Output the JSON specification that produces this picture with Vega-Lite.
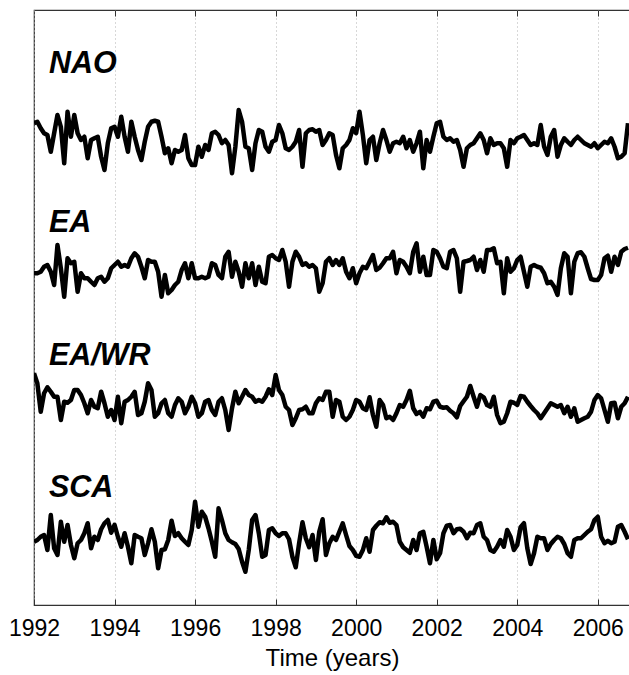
{
  "$schema": "https://vega.github.io/schema/vega-lite/v6.json",
  "width": 596,
  "height": 595,
  "autosize": {"type": "none"},
  "padding": {"left": 34, "top": 10, "right": 0, "bottom": 70},
  "background": "white",
  "config": {"view": {"stroke": "#333333", "strokeWidth": 1.2}, "font": "Liberation Sans"},
  "datasets": {
    "idx": [
      {"t":1992.000,"NAO":19.27,"EA":13.27,"EAWR":9.27,"SCA":2.53},
      {"t":1992.083,"NAO":19.33,"EA":13.27,"EAWR":8.87,"SCA":2.60},
      {"t":1992.167,"NAO":19.07,"EA":13.33,"EAWR":7.73,"SCA":2.73},
      {"t":1992.250,"NAO":18.87,"EA":13.53,"EAWR":8.47,"SCA":2.80},
      {"t":1992.333,"NAO":18.80,"EA":13.60,"EAWR":8.71,"SCA":2.20},
      {"t":1992.417,"NAO":18.13,"EA":13.33,"EAWR":8.53,"SCA":3.60},
      {"t":1992.500,"NAO":18.87,"EA":12.80,"EAWR":8.33,"SCA":2.27},
      {"t":1992.583,"NAO":19.60,"EA":14.40,"EAWR":8.33,"SCA":2.00},
      {"t":1992.667,"NAO":19.13,"EA":13.47,"EAWR":7.40,"SCA":3.33},
      {"t":1992.750,"NAO":17.67,"EA":12.33,"EAWR":8.13,"SCA":2.53},
      {"t":1992.833,"NAO":19.73,"EA":13.87,"EAWR":8.09,"SCA":3.20},
      {"t":1992.917,"NAO":18.73,"EA":13.67,"EAWR":8.20,"SCA":2.40},
      {"t":1993.000,"NAO":19.60,"EA":13.73,"EAWR":8.60,"SCA":1.87},
      {"t":1993.083,"NAO":18.87,"EA":12.53,"EAWR":8.60,"SCA":2.47},
      {"t":1993.167,"NAO":18.60,"EA":13.27,"EAWR":8.40,"SCA":2.60},
      {"t":1993.250,"NAO":18.73,"EA":13.07,"EAWR":8.07,"SCA":2.87},
      {"t":1993.333,"NAO":17.87,"EA":13.07,"EAWR":7.67,"SCA":3.27},
      {"t":1993.417,"NAO":18.60,"EA":12.93,"EAWR":8.20,"SCA":2.27},
      {"t":1993.500,"NAO":18.67,"EA":12.80,"EAWR":7.93,"SCA":2.73},
      {"t":1993.583,"NAO":18.73,"EA":13.07,"EAWR":7.87,"SCA":2.60},
      {"t":1993.667,"NAO":17.93,"EA":13.13,"EAWR":8.53,"SCA":3.03},
      {"t":1993.750,"NAO":17.40,"EA":12.93,"EAWR":8.07,"SCA":3.27},
      {"t":1993.833,"NAO":18.47,"EA":13.07,"EAWR":7.53,"SCA":3.40},
      {"t":1993.917,"NAO":19.07,"EA":13.47,"EAWR":7.80,"SCA":2.89},
      {"t":1994.000,"NAO":19.13,"EA":13.60,"EAWR":7.40,"SCA":3.21},
      {"t":1994.083,"NAO":18.73,"EA":13.73,"EAWR":8.33,"SCA":2.73},
      {"t":1994.167,"NAO":19.53,"EA":13.53,"EAWR":7.27,"SCA":2.33},
      {"t":1994.250,"NAO":18.73,"EA":13.60,"EAWR":8.13,"SCA":2.87},
      {"t":1994.333,"NAO":18.13,"EA":13.53,"EAWR":8.20,"SCA":2.33},
      {"t":1994.417,"NAO":19.33,"EA":13.87,"EAWR":8.33,"SCA":1.67},
      {"t":1994.500,"NAO":18.73,"EA":14.07,"EAWR":8.53,"SCA":2.80},
      {"t":1994.583,"NAO":18.20,"EA":13.93,"EAWR":7.60,"SCA":2.73},
      {"t":1994.667,"NAO":17.80,"EA":13.53,"EAWR":7.67,"SCA":2.67},
      {"t":1994.750,"NAO":18.53,"EA":13.07,"EAWR":8.13,"SCA":2.00},
      {"t":1994.833,"NAO":19.13,"EA":13.80,"EAWR":8.87,"SCA":2.47},
      {"t":1994.917,"NAO":19.33,"EA":13.73,"EAWR":8.60,"SCA":3.03},
      {"t":1995.000,"NAO":19.37,"EA":13.73,"EAWR":7.53,"SCA":2.53},
      {"t":1995.083,"NAO":19.33,"EA":13.33,"EAWR":7.67,"SCA":1.47},
      {"t":1995.167,"NAO":18.73,"EA":12.33,"EAWR":8.07,"SCA":2.20},
      {"t":1995.250,"NAO":18.07,"EA":13.20,"EAWR":8.20,"SCA":2.23},
      {"t":1995.333,"NAO":18.27,"EA":12.47,"EAWR":7.67,"SCA":2.60},
      {"t":1995.417,"NAO":17.67,"EA":12.60,"EAWR":7.53,"SCA":3.37},
      {"t":1995.500,"NAO":18.20,"EA":12.80,"EAWR":8.00,"SCA":2.76},
      {"t":1995.583,"NAO":18.13,"EA":12.93,"EAWR":8.27,"SCA":2.87},
      {"t":1995.667,"NAO":18.20,"EA":13.40,"EAWR":8.13,"SCA":2.67},
      {"t":1995.750,"NAO":18.80,"EA":13.67,"EAWR":7.67,"SCA":2.53},
      {"t":1995.833,"NAO":17.87,"EA":13.07,"EAWR":7.93,"SCA":2.40},
      {"t":1995.917,"NAO":17.60,"EA":13.67,"EAWR":8.33,"SCA":3.00},
      {"t":1996.000,"NAO":17.60,"EA":13.07,"EAWR":8.07,"SCA":4.13},
      {"t":1996.083,"NAO":18.33,"EA":13.07,"EAWR":7.53,"SCA":3.13},
      {"t":1996.167,"NAO":17.93,"EA":13.13,"EAWR":7.67,"SCA":3.73},
      {"t":1996.250,"NAO":18.40,"EA":13.07,"EAWR":8.13,"SCA":3.53},
      {"t":1996.333,"NAO":18.20,"EA":13.13,"EAWR":8.20,"SCA":3.07},
      {"t":1996.417,"NAO":18.87,"EA":13.67,"EAWR":7.80,"SCA":2.53},
      {"t":1996.500,"NAO":18.93,"EA":13.60,"EAWR":7.60,"SCA":1.93},
      {"t":1996.583,"NAO":18.80,"EA":13.20,"EAWR":8.13,"SCA":3.87},
      {"t":1996.667,"NAO":18.47,"EA":13.07,"EAWR":8.27,"SCA":3.40},
      {"t":1996.750,"NAO":18.60,"EA":13.93,"EAWR":7.80,"SCA":2.87},
      {"t":1996.833,"NAO":18.40,"EA":14.13,"EAWR":7.00,"SCA":2.60},
      {"t":1996.917,"NAO":17.27,"EA":13.13,"EAWR":7.87,"SCA":2.51},
      {"t":1997.000,"NAO":18.33,"EA":13.73,"EAWR":8.53,"SCA":2.44},
      {"t":1997.083,"NAO":19.80,"EA":13.33,"EAWR":8.07,"SCA":2.24},
      {"t":1997.167,"NAO":19.33,"EA":12.73,"EAWR":8.33,"SCA":1.73},
      {"t":1997.250,"NAO":18.33,"EA":13.67,"EAWR":8.60,"SCA":1.33},
      {"t":1997.333,"NAO":18.27,"EA":13.07,"EAWR":8.40,"SCA":2.20},
      {"t":1997.417,"NAO":17.40,"EA":13.67,"EAWR":8.33,"SCA":3.40},
      {"t":1997.500,"NAO":18.47,"EA":12.80,"EAWR":8.13,"SCA":3.60},
      {"t":1997.583,"NAO":19.00,"EA":13.53,"EAWR":8.20,"SCA":2.87},
      {"t":1997.667,"NAO":18.93,"EA":12.93,"EAWR":8.13,"SCA":1.93},
      {"t":1997.750,"NAO":18.33,"EA":12.87,"EAWR":8.33,"SCA":2.00},
      {"t":1997.833,"NAO":18.13,"EA":13.93,"EAWR":8.63,"SCA":3.00},
      {"t":1997.917,"NAO":18.53,"EA":14.00,"EAWR":8.40,"SCA":3.07},
      {"t":1998.000,"NAO":18.60,"EA":13.87,"EAWR":9.20,"SCA":2.87},
      {"t":1998.083,"NAO":19.20,"EA":13.80,"EAWR":8.60,"SCA":2.76},
      {"t":1998.167,"NAO":18.87,"EA":14.20,"EAWR":8.40,"SCA":2.87},
      {"t":1998.250,"NAO":18.27,"EA":13.73,"EAWR":7.93,"SCA":2.87},
      {"t":1998.333,"NAO":18.20,"EA":12.73,"EAWR":7.80,"SCA":2.63},
      {"t":1998.417,"NAO":18.33,"EA":13.73,"EAWR":7.20,"SCA":1.93},
      {"t":1998.500,"NAO":18.53,"EA":14.13,"EAWR":7.47,"SCA":1.51},
      {"t":1998.583,"NAO":19.00,"EA":13.93,"EAWR":7.80,"SCA":2.47},
      {"t":1998.667,"NAO":17.53,"EA":13.60,"EAWR":7.83,"SCA":3.31},
      {"t":1998.750,"NAO":18.87,"EA":13.67,"EAWR":7.93,"SCA":2.67},
      {"t":1998.833,"NAO":19.00,"EA":13.53,"EAWR":7.67,"SCA":2.31},
      {"t":1998.917,"NAO":19.03,"EA":13.60,"EAWR":7.67,"SCA":2.80},
      {"t":1999.000,"NAO":18.93,"EA":13.47,"EAWR":8.07,"SCA":1.80},
      {"t":1999.083,"NAO":19.00,"EA":12.53,"EAWR":8.27,"SCA":2.93},
      {"t":1999.167,"NAO":18.40,"EA":12.87,"EAWR":8.20,"SCA":3.43},
      {"t":1999.250,"NAO":18.60,"EA":13.73,"EAWR":8.53,"SCA":2.00},
      {"t":1999.333,"NAO":18.87,"EA":13.87,"EAWR":8.53,"SCA":2.47},
      {"t":1999.417,"NAO":18.80,"EA":13.60,"EAWR":7.53,"SCA":2.73},
      {"t":1999.500,"NAO":18.00,"EA":13.80,"EAWR":8.20,"SCA":2.60},
      {"t":1999.583,"NAO":17.47,"EA":13.60,"EAWR":8.13,"SCA":2.93},
      {"t":1999.667,"NAO":18.27,"EA":13.87,"EAWR":7.53,"SCA":3.27},
      {"t":1999.750,"NAO":18.40,"EA":13.33,"EAWR":7.40,"SCA":2.80},
      {"t":1999.833,"NAO":18.60,"EA":13.07,"EAWR":7.53,"SCA":2.36},
      {"t":1999.917,"NAO":19.07,"EA":13.47,"EAWR":7.80,"SCA":2.20},
      {"t":2000.000,"NAO":18.87,"EA":12.87,"EAWR":8.20,"SCA":1.97},
      {"t":2000.083,"NAO":19.73,"EA":13.27,"EAWR":8.13,"SCA":1.93},
      {"t":2000.167,"NAO":18.80,"EA":13.53,"EAWR":7.87,"SCA":2.20},
      {"t":2000.250,"NAO":17.67,"EA":13.47,"EAWR":7.80,"SCA":2.67},
      {"t":2000.333,"NAO":18.60,"EA":13.73,"EAWR":8.31,"SCA":2.13},
      {"t":2000.417,"NAO":18.73,"EA":14.00,"EAWR":7.60,"SCA":3.00},
      {"t":2000.500,"NAO":17.80,"EA":13.40,"EAWR":7.13,"SCA":3.17},
      {"t":2000.583,"NAO":18.47,"EA":13.49,"EAWR":8.20,"SCA":3.31},
      {"t":2000.667,"NAO":19.00,"EA":13.67,"EAWR":8.00,"SCA":3.27},
      {"t":2000.750,"NAO":18.60,"EA":13.87,"EAWR":7.47,"SCA":3.51},
      {"t":2000.833,"NAO":18.13,"EA":13.87,"EAWR":7.53,"SCA":3.29},
      {"t":2000.917,"NAO":18.47,"EA":14.13,"EAWR":7.40,"SCA":3.33},
      {"t":2001.000,"NAO":18.53,"EA":13.27,"EAWR":7.67,"SCA":3.20},
      {"t":2001.083,"NAO":18.47,"EA":13.80,"EAWR":8.00,"SCA":2.53},
      {"t":2001.167,"NAO":18.73,"EA":13.73,"EAWR":7.93,"SCA":2.31},
      {"t":2001.250,"NAO":18.27,"EA":13.53,"EAWR":8.20,"SCA":2.20},
      {"t":2001.333,"NAO":18.60,"EA":13.27,"EAWR":8.57,"SCA":2.09},
      {"t":2001.417,"NAO":18.13,"EA":14.13,"EAWR":7.87,"SCA":2.60},
      {"t":2001.500,"NAO":18.47,"EA":14.47,"EAWR":7.64,"SCA":2.20},
      {"t":2001.583,"NAO":18.93,"EA":13.33,"EAWR":7.73,"SCA":2.87},
      {"t":2001.667,"NAO":17.47,"EA":13.93,"EAWR":7.53,"SCA":2.93},
      {"t":2001.750,"NAO":18.60,"EA":13.20,"EAWR":7.87,"SCA":2.33},
      {"t":2001.833,"NAO":18.13,"EA":13.20,"EAWR":7.83,"SCA":1.67},
      {"t":2001.917,"NAO":18.73,"EA":14.20,"EAWR":8.13,"SCA":2.60},
      {"t":2002.000,"NAO":19.27,"EA":14.13,"EAWR":8.17,"SCA":1.83},
      {"t":2002.083,"NAO":19.33,"EA":13.87,"EAWR":7.93,"SCA":2.07},
      {"t":2002.167,"NAO":18.73,"EA":13.53,"EAWR":7.89,"SCA":2.87},
      {"t":2002.250,"NAO":18.60,"EA":13.47,"EAWR":7.91,"SCA":3.17},
      {"t":2002.333,"NAO":18.67,"EA":14.13,"EAWR":7.77,"SCA":3.20},
      {"t":2002.417,"NAO":18.53,"EA":14.20,"EAWR":7.67,"SCA":2.87},
      {"t":2002.500,"NAO":18.60,"EA":13.87,"EAWR":7.51,"SCA":3.03},
      {"t":2002.583,"NAO":18.20,"EA":12.53,"EAWR":7.96,"SCA":3.05},
      {"t":2002.667,"NAO":17.53,"EA":13.73,"EAWR":8.15,"SCA":2.93},
      {"t":2002.750,"NAO":18.27,"EA":13.76,"EAWR":8.33,"SCA":2.67},
      {"t":2002.833,"NAO":18.40,"EA":13.80,"EAWR":8.76,"SCA":2.89},
      {"t":2002.917,"NAO":18.47,"EA":13.93,"EAWR":8.33,"SCA":2.87},
      {"t":2003.000,"NAO":18.67,"EA":13.40,"EAWR":7.93,"SCA":3.20},
      {"t":2003.083,"NAO":18.87,"EA":13.80,"EAWR":8.40,"SCA":3.27},
      {"t":2003.167,"NAO":18.60,"EA":13.33,"EAWR":8.31,"SCA":2.73},
      {"t":2003.250,"NAO":18.07,"EA":14.20,"EAWR":8.00,"SCA":2.60},
      {"t":2003.333,"NAO":18.67,"EA":14.20,"EAWR":7.93,"SCA":2.20},
      {"t":2003.417,"NAO":18.40,"EA":14.27,"EAWR":8.33,"SCA":2.13},
      {"t":2003.500,"NAO":18.47,"EA":13.67,"EAWR":7.60,"SCA":2.33},
      {"t":2003.583,"NAO":18.47,"EA":13.73,"EAWR":7.27,"SCA":2.60},
      {"t":2003.667,"NAO":18.27,"EA":12.47,"EAWR":7.33,"SCA":2.33},
      {"t":2003.750,"NAO":17.53,"EA":13.87,"EAWR":7.67,"SCA":3.00},
      {"t":2003.833,"NAO":18.60,"EA":13.33,"EAWR":8.13,"SCA":2.73},
      {"t":2003.917,"NAO":18.47,"EA":13.47,"EAWR":8.09,"SCA":2.20},
      {"t":2004.000,"NAO":18.67,"EA":13.80,"EAWR":8.00,"SCA":2.40},
      {"t":2004.083,"NAO":18.73,"EA":13.93,"EAWR":8.36,"SCA":3.11},
      {"t":2004.167,"NAO":18.80,"EA":13.33,"EAWR":8.33,"SCA":3.27},
      {"t":2004.250,"NAO":18.60,"EA":12.73,"EAWR":8.13,"SCA":2.27},
      {"t":2004.333,"NAO":18.40,"EA":13.53,"EAWR":7.96,"SCA":1.64},
      {"t":2004.417,"NAO":18.47,"EA":13.60,"EAWR":7.80,"SCA":2.07},
      {"t":2004.500,"NAO":18.40,"EA":13.53,"EAWR":7.67,"SCA":2.73},
      {"t":2004.583,"NAO":19.20,"EA":13.49,"EAWR":7.47,"SCA":2.67},
      {"t":2004.667,"NAO":18.33,"EA":13.27,"EAWR":7.67,"SCA":2.67},
      {"t":2004.750,"NAO":18.00,"EA":12.87,"EAWR":7.87,"SCA":2.20},
      {"t":2004.833,"NAO":18.73,"EA":12.93,"EAWR":8.07,"SCA":2.44},
      {"t":2004.917,"NAO":19.00,"EA":12.73,"EAWR":8.00,"SCA":2.60},
      {"t":2005.000,"NAO":17.93,"EA":12.40,"EAWR":7.93,"SCA":2.73},
      {"t":2005.083,"NAO":18.40,"EA":13.47,"EAWR":8.00,"SCA":2.67},
      {"t":2005.167,"NAO":18.67,"EA":14.07,"EAWR":7.67,"SCA":2.44},
      {"t":2005.250,"NAO":18.53,"EA":13.93,"EAWR":7.93,"SCA":2.07},
      {"t":2005.333,"NAO":18.40,"EA":12.47,"EAWR":7.53,"SCA":1.93},
      {"t":2005.417,"NAO":18.60,"EA":13.73,"EAWR":7.87,"SCA":2.60},
      {"t":2005.500,"NAO":18.73,"EA":14.07,"EAWR":7.33,"SCA":2.67},
      {"t":2005.583,"NAO":18.60,"EA":14.11,"EAWR":7.40,"SCA":2.67},
      {"t":2005.667,"NAO":18.47,"EA":13.93,"EAWR":7.47,"SCA":2.80},
      {"t":2005.750,"NAO":18.40,"EA":13.47,"EAWR":7.53,"SCA":2.93},
      {"t":2005.833,"NAO":18.33,"EA":13.04,"EAWR":7.73,"SCA":3.03},
      {"t":2005.917,"NAO":18.47,"EA":13.00,"EAWR":8.20,"SCA":3.40},
      {"t":2006.000,"NAO":18.27,"EA":13.00,"EAWR":8.40,"SCA":3.53},
      {"t":2006.083,"NAO":18.40,"EA":13.20,"EAWR":8.27,"SCA":2.73},
      {"t":2006.167,"NAO":18.53,"EA":13.87,"EAWR":7.80,"SCA":2.47},
      {"t":2006.250,"NAO":18.47,"EA":13.97,"EAWR":7.33,"SCA":2.57},
      {"t":2006.333,"NAO":18.67,"EA":13.33,"EAWR":8.07,"SCA":2.47},
      {"t":2006.417,"NAO":18.33,"EA":13.93,"EAWR":8.09,"SCA":2.53},
      {"t":2006.500,"NAO":17.87,"EA":13.60,"EAWR":7.47,"SCA":3.13},
      {"t":2006.583,"NAO":17.93,"EA":14.13,"EAWR":7.93,"SCA":3.20},
      {"t":2006.667,"NAO":18.07,"EA":14.24,"EAWR":8.07,"SCA":2.93},
      {"t":2006.750,"NAO":19.27,"EA":14.29,"EAWR":8.33,"SCA":2.63}
    ]
  },
  "resolve": {"axis": {"x": "independent"}},
  "layer": [
    {
      "data": {"name": "idx"},
      "transform": [{"fold": ["NAO", "EA", "EAWR", "SCA"], "as": ["series", "value"]}],
      "mark": {"type": "line", "color": "black", "strokeWidth": 4.5, "strokeJoin": "round", "clip": true},
      "encoding": {
        "x": {
          "field": "t", "type": "quantitative",
          "scale": {"domain": [1992, 2006.8], "nice": false, "zero": false},
          "axis": {
            "orient": "bottom", "values": [1992, 1994, 1996, 1998, 2000, 2002, 2004, 2006],
            "format": "d", "title": "Time (years)",
            "labelFont": "Liberation Sans", "labelFontSize": 23, "labelColor": "black",
            "titleFont": "Liberation Sans", "titleFontSize": 24, "titleFontWeight": "normal", "titleColor": "black",
            "grid": true, "gridColor": "#b0b0b0", "gridDash": [1, 3], "gridWidth": 1,
            "tickSize": -6, "tickColor": "#333333", "domain": false,
            "labelPadding": 18, "titlePadding": 6, "labelFlush": false
          }
        },
        "y": {
          "field": "value", "type": "quantitative",
          "scale": {"domain": [0, 23.8], "nice": false, "zero": false},
          "axis": null
        },
        "detail": {"field": "series"}
      }
    },
    {
      "data": {"name": "idx"},
      "transform": [{"fold": ["NAO"], "as": ["series", "value"]}],
      "mark": {"type": "line", "strokeOpacity": 0},
      "encoding": {
        "x": {
          "field": "t", "type": "quantitative",
          "axis": {
            "orient": "top", "values": [1994, 1996, 1998, 2000, 2002, 2004, 2006],
            "labels": false, "title": null, "grid": false, "domain": false,
            "tickSize": -6, "tickColor": "#333333"
          }
        },
        "y": {"field": "value", "type": "quantitative", "axis": null}
      }
    },
    {
      "data": {"values": [{"label": "NAO"}]},
      "mark": {"type": "text", "align": "left", "baseline": "alphabetic", "font": "Liberation Sans", "fontSize": 30.5, "fontWeight": "bold", "fontStyle": "italic", "color": "black"},
      "encoding": {"text": {"field": "label"}, "x": {"datum": 1992.37, "type": "quantitative", "axis": null}, "y": {"datum": 21.28, "type": "quantitative", "axis": null}}
    },
    {
      "data": {"values": [{"label": "EA"}]},
      "mark": {"type": "text", "align": "left", "baseline": "alphabetic", "font": "Liberation Sans", "fontSize": 30.5, "fontWeight": "bold", "fontStyle": "italic", "color": "black"},
      "encoding": {"text": {"field": "label"}, "x": {"datum": 1992.37, "type": "quantitative", "axis": null}, "y": {"datum": 14.92, "type": "quantitative", "axis": null}}
    },
    {
      "data": {"values": [{"label": "EA/WR"}]},
      "mark": {"type": "text", "align": "left", "baseline": "alphabetic", "font": "Liberation Sans", "fontSize": 30.5, "fontWeight": "bold", "fontStyle": "italic", "color": "black"},
      "encoding": {"text": {"field": "label"}, "x": {"datum": 1992.37, "type": "quantitative", "axis": null}, "y": {"datum": 9.6, "type": "quantitative", "axis": null}}
    },
    {
      "data": {"values": [{"label": "SCA"}]},
      "mark": {"type": "text", "align": "left", "baseline": "alphabetic", "font": "Liberation Sans", "fontSize": 30.5, "fontWeight": "bold", "fontStyle": "italic", "color": "black"},
      "encoding": {"text": {"field": "label"}, "x": {"datum": 1992.37, "type": "quantitative", "axis": null}, "y": {"datum": 4.32, "type": "quantitative", "axis": null}}
    }
  ]
}
